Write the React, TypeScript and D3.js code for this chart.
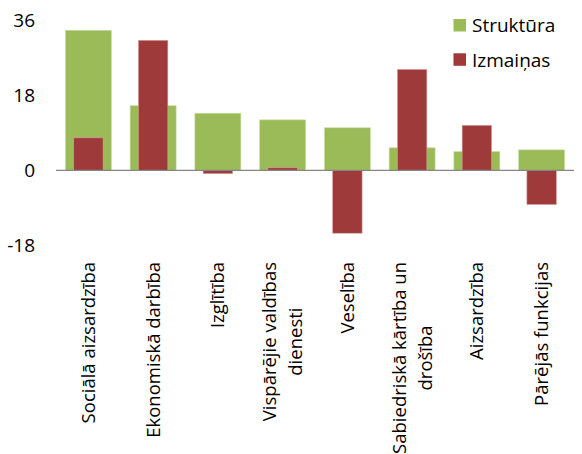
import React, { useEffect, useRef } from "react";
import * as d3 from "d3";

const categories: string[][] = [
  ["Sociālā aizsardzība"],
  ["Ekonomiskā darbība"],
  ["Izglītība"],
  ["Vispārējie valdības", "dienesti"],
  ["Veselība"],
  ["Sabiedriskā kārtība un", "drošība"],
  ["Aizsardzība"],
  ["Pārējās funkcijas"],
];
const struktura = [33.6, 15.5, 13.7, 12.1, 10.2, 5.4, 4.5, 4.9];
const izmainas = [7.8, 31.2, -0.8, 0.6, -15.1, 24.2, 10.8, -8.2];
const yTicks = [36, 18, 0, -18];
const seriesNames = ["Struktūra", "Izmaiņas"];
const seriesColors = ["#9BBB59", "#9E3A3A"];

const W = 582;
const H = 454;
const FONT = "'Open Sans', sans-serif";

export default function App() {
  const labelRef = useRef<SVGGElement>(null);
  const keys = categories.map((_, i) => String(i));
  const x = d3.scaleBand<string>().domain(keys).range([56, 574]).padding(0);
  const y = d3.scaleLinear().domain([-18, 36]).range([245.3, 20.3]);
  const bw = x.bandwidth();
  const gW = bw * 0.71;
  const rW = bw * 0.455;

  useEffect(() => {
    const g = d3.select(labelRef.current);
    g.selectAll("*").remove();
    const lineH = 26;
    const top = 262;
    categories.forEach((lines, i) => {
      const cx = (x(String(i)) as number) + bw / 2;
      const grp = g.append("g");
      const texts = lines.map((ln, j) =>
        grp
          .append("text")
          .attr("text-anchor", "middle")
          .attr("font-family", FONT)
          .attr("font-size", 18.5)
          .attr("fill", "#000")
          .attr("dy", "0.35em")
          .attr("x", 0)
          .attr("y", (j - (lines.length - 1) / 2) * lineH)
          .text(ln)
      );
      const maxLen = d3.max(texts, (t) => (t.node() as SVGTextElement).getComputedTextLength()) || 0;
      grp.attr("transform", `translate(${cx},${top + maxLen / 2}) rotate(-90)`);
    });
  }, []);

  return (
    <svg
      width={W}
      height={H}
      style={{ position: "absolute", left: 0, top: 0, background: "#fff" }}
    >
      {struktura.map((v, i) => (
        <rect
          key={"g" + i}
          x={(x(String(i)) as number) + bw / 2 - gW / 2}
          y={y(Math.max(0, v))}
          width={gW}
          height={Math.abs(y(v) - y(0))}
          fill={seriesColors[0]}
          stroke="#c9dca3"
          strokeWidth={0.6}
        />
      ))}
      {izmainas.map((v, i) => (
        <rect
          key={"r" + i}
          x={(x(String(i)) as number) + bw / 2 - rW / 2}
          y={y(Math.max(0, v))}
          width={rW}
          height={Math.abs(y(v) - y(0))}
          fill={seriesColors[1]}
          stroke="#d9a0a0"
          strokeWidth={0.6}
        />
      ))}
      <line x1={56} x2={574} y1={y(0)} y2={y(0)} stroke="#868686" strokeWidth={1.2} />
      {yTicks.map((t) => (
        <text
          key={t}
          x={35}
          y={y(t)}
          dy="0.35em"
          textAnchor="end"
          fontFamily={FONT}
          fontSize={19}
          fill="#000"
        >
          {t}
        </text>
      ))}
      {seriesNames.map((n, i) => (
        <g key={n} transform={`translate(453.5,${19 + i * 34.3})`}>
          <rect width={12.5} height={12.5} fill={seriesColors[i]} />
          <text x={18.5} y={6.5} dy="0.36em" fontFamily={FONT} fontSize={19} fill="#000">
            {n}
          </text>
        </g>
      ))}
      <g ref={labelRef} />
    </svg>
  );
}
